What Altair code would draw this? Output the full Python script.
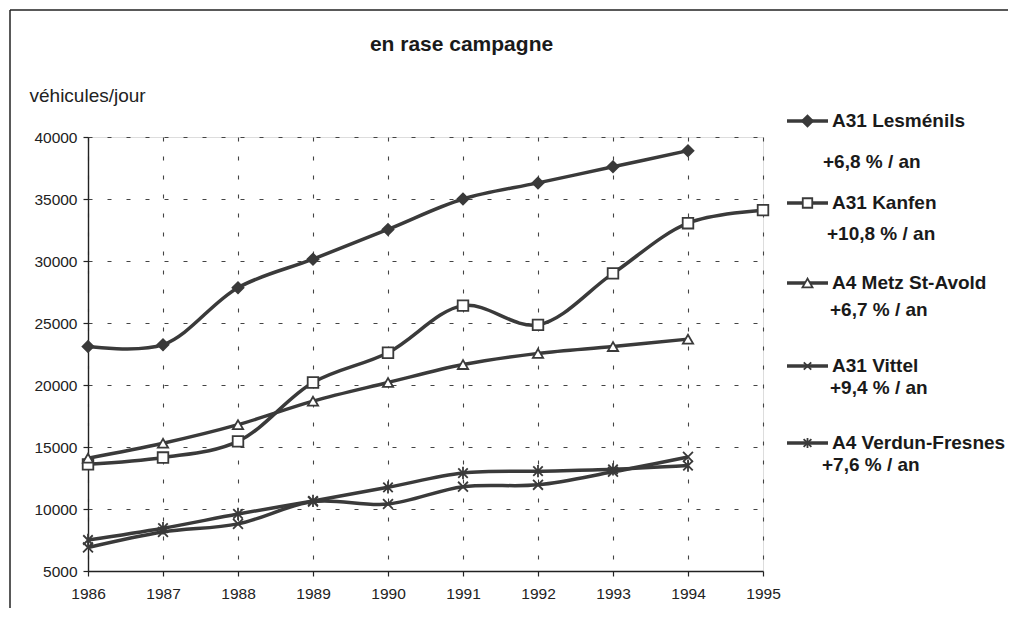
import altair as alt
import pandas as pd

# ---------------- data ----------------
YEARS = [1986, 1987, 1988, 1989, 1990, 1991, 1992, 1993, 1994, 1995]
SERIES = ["A31 Lesménils", "A31 Kanfen", "A4 Metz St-Avold", "A31 Vittel", "A4 Verdun-Fresnes"]
RATES = ["+6,8 % / an", "+10,8 % / an", "+6,7 % / an", "+9,4 % / an", "+7,6 % / an"]

LESMENILS = [23100, 23250, 27850, 30150, 32550, 35000, 36300, 37600, 38900]
KANFEN = [13600, 14150, 15450, 20200, 22600, 26400, 24850, 29000, 33050, 34100]
METZ = [14100, 15300, 16800, 18700, 20200, 21650, 22550, 23100, 23700]
VITTEL = [6900, 8150, 8800, 10600, 10400, 11800, 11950, 13000, 14200]
VERDUN = [7500, 8450, 9600, 10650, 11750, 12900, 13050, 13200, 13500]

Y_TICKS = [5000, 10000, 15000, 20000, 25000, 30000, 35000, 40000]
TITLE = "en rase campagne"
Y_TITLE = "véhicules/jour"

# ---------------- style ----------------
FONT = "Liberation Sans"
DARK = "#3a3a3a"
X_PATH = "M-1,-1L1,1M-1,1L1,-1"
STAR_PATH = "M-1,-1L1,1M-1,1L1,-1M0,-1.3L0,1.3"
SHAPES = ["diamond", "square", "triangle-up", X_PATH, STAR_PATH]
FILLS = [DARK, "white", "white", "white", "white"]
SIZES = [120, 90, 100, 55, 60]

W, H = 675, 434

values = [LESMENILS, KANFEN, METZ, VITTEL, VERDUN]
rows = []
for name, vals in zip(SERIES, values):
    for yr, v in zip(YEARS, vals):
        rows.append({"series": name, "year": yr, "value": v})
df = pd.DataFrame(rows)

x_enc = alt.X(
    "year:Q",
    scale=alt.Scale(domain=[YEARS[0], YEARS[-1]], nice=False, zero=False),
    axis=alt.Axis(
        values=YEARS, format="d", title=None, grid=True, labelFlush=False,
        gridDash=[4, 15], gridColor="#444", gridWidth=1.1,
        domainColor="#222", domainWidth=1.4, tickColor="#222", tickWidth=1.2, tickSize=5,
        labelFont=FONT, labelFontSize=15.5, labelColor="#222", labelPadding=10,
    ),
)
y_enc = alt.Y(
    "value:Q",
    scale=alt.Scale(domain=[5000, 40000], nice=False, zero=False),
    axis=alt.Axis(
        values=Y_TICKS, format="d", grid=True, labelFlush=False,
        gridDash=[4, 15], gridColor="#444", gridWidth=1.1,
        domainColor="#222", domainWidth=1.4, tickColor="#222", tickWidth=1.2, tickSize=5,
        labelFont=FONT, labelFontSize=15.5, labelColor="#222", labelPadding=6,
        title=Y_TITLE, titleFont=FONT, titleFontSize=19, titleFontWeight="normal",
        titleColor="#222", titleAngle=0, titleAlign="left", titleBaseline="middle",
        titleX=-59, titleY=-42,
    ),
)

lines = alt.Chart(df).mark_line(
    interpolate="catmull-rom", strokeWidth=3.5, color=DARK
).encode(x=x_enc, y=y_enc, detail="series:N")

points = alt.Chart(df).mark_point(strokeWidth=1.8, opacity=1, stroke=DARK).encode(
    x="year:Q",
    y="value:Q",
    shape=alt.Shape("series:N", scale=alt.Scale(domain=SERIES, range=SHAPES), legend=None),
    fill=alt.Fill("series:N", scale=alt.Scale(domain=SERIES, range=FILLS), legend=None),
    size=alt.Size("series:N", scale=alt.Scale(domain=SERIES, range=SIZES), legend=None),
)

layers = [lines, points]

# title
layers.append(
    alt.Chart(pd.DataFrame({"t": [TITLE]})).mark_text(
        font=FONT, fontSize=21, fontWeight="bold", color="#1a1a1a",
        align="center", baseline="middle",
    ).encode(x=alt.value(373.5), y=alt.value(-92), text="t:N")
)

# frame (scan border)
layers.append(
    alt.Chart(pd.DataFrame({"a": [0]})).mark_rule(color="#222", strokeWidth=1.5).encode(
        x=alt.value(-78), x2=alt.value(920), y=alt.value(-127)
    )
)
layers.append(
    alt.Chart(pd.DataFrame({"a": [0]})).mark_rule(color="#222", strokeWidth=1.5).encode(
        x=alt.value(-78), y=alt.value(-127), y2=alt.value(471)
    )
)

# custom legend (layout positions, pixels relative to plot origin)
LEG_NAME_Y = [-16, 66, 146, 229, 306]
LEG_RATE_Y = [25, 97, 173, 251, 328]
LEG_RATE_X = [735, 739, 742, 742, 734]
for i, name in enumerate(SERIES):
    one = pd.DataFrame({"name": [name], "rate": [RATES[i]]})
    ly = LEG_NAME_Y[i]
    layers.append(
        alt.Chart(one).mark_rule(color=DARK, strokeWidth=3.5).encode(
            x=alt.value(699), x2=alt.value(740), y=alt.value(ly)
        )
    )
    layers.append(
        alt.Chart(one).mark_point(
            shape=SHAPES[i], fill=FILLS[i], stroke=DARK, strokeWidth=1.8,
            size=SIZES[i], opacity=1, filled=False,
        ).encode(x=alt.value(719.5), y=alt.value(ly))
    )
    layers.append(
        alt.Chart(one).mark_text(
            font=FONT, fontSize=19, fontWeight="bold", color="#1a1a1a",
            align="left", baseline="middle",
        ).encode(x=alt.value(744), y=alt.value(ly), text="name:N")
    )
    layers.append(
        alt.Chart(one).mark_text(
            font=FONT, fontSize=19, fontWeight="bold", color="#1a1a1a",
            align="left", baseline="middle",
        ).encode(x=alt.value(LEG_RATE_X[i]), y=alt.value(LEG_RATE_Y[i]), text="rate:N")
    )

chart = alt.layer(*layers).properties(
    width=W,
    height=H,
    autosize=alt.AutoSizeParams(type="none"),
    padding={"left": 80, "top": 129, "right": 245, "bottom": 37},
).configure_view(stroke=None).configure(background="white")

chart.save("out.html", embed_options={"renderer": "svg", "actions": False})
